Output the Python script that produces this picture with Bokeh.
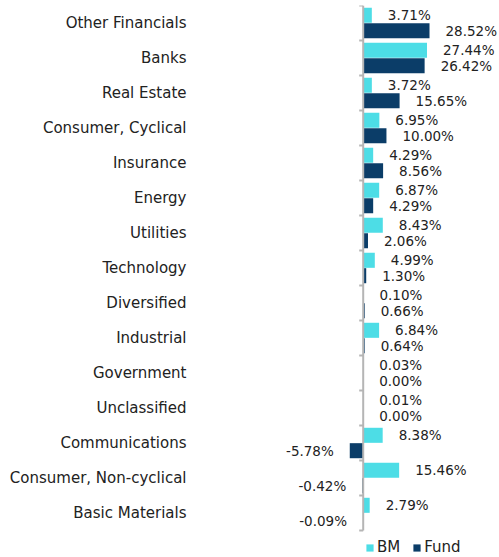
from bokeh.plotting import figure
from bokeh.models import Range1d, ColumnDataSource, Legend, LegendItem, FixedTicker
from bokeh.transform import dodge
from bokeh.core.properties import value
from bokeh.embed import file_html
from bokeh.resources import INLINE

categories = ["Other Financials", "Banks", "Real Estate", "Consumer, Cyclical", "Insurance",
              "Energy", "Utilities", "Technology", "Diversified", "Industrial", "Government",
              "Unclassified", "Communications", "Consumer, Non-cyclical", "Basic Materials"]
bm = [3.71, 27.44, 3.72, 6.95, 4.29, 6.87, 8.43, 4.99, 0.10, 6.84, 0.03, 0.01, 8.38, 15.46, 2.79]
fund = [28.52, 26.42, 15.65, 10.00, 8.56, 4.29, 2.06, 1.30, 0.66, 0.64, 0.00, 0.00, -5.78, -0.42, -0.09]
series_names = ["BM", "Fund"]

BM_COLOR = "#4DDDE6"
FUND_COLOR = "#0B3D68"
AXIS_COLOR = "#B5B5B5"
TEXT_COLOR = "#222222"
FONT = "DejaVu Sans"

n = len(categories)
ypos = [n - i - 0.5 for i in range(n)]   # category slots, top to bottom

L = 190          # frame left (px)
TOP = 5
ROW_PX = 35
FRAME_H = 557 - TOP
PX_PER_UNIT = 2.325
ZERO_PX = 362.7
FRAME_W = 499 - L
x_start = -(ZERO_PX - L) / PX_PER_UNIT
x_end = (499 - ZERO_PX) / PX_PER_UNIT

p = figure(y_range=Range1d(n - FRAME_H / ROW_PX, n),
           x_range=Range1d(x_start, x_end),
           frame_width=FRAME_W, frame_height=FRAME_H,
           output_backend="svg", toolbar_location=None,
           min_border_left=L, min_border_right=0, min_border_top=TOP, min_border_bottom=0)
p.outline_line_color = None
p.xgrid.visible = False
p.ygrid.visible = False
p.xaxis.visible = False
p.yaxis.ticker = FixedTicker(ticks=ypos, minor_ticks=[])
p.yaxis.major_label_overrides = {y: c for y, c in zip(ypos, categories)}
p.yaxis.axis_line_color = None
p.yaxis.major_tick_line_color = None
p.yaxis.major_tick_in = 0
p.yaxis.major_tick_out = 0
p.yaxis.minor_tick_line_color = None
p.yaxis.major_label_text_font = FONT
p.yaxis.major_label_text_font_size = "15px"
p.yaxis.major_label_text_color = TEXT_COLOR
p.yaxis.major_label_standoff = 4

src = ColumnDataSource(dict(y=ypos, cat=categories, bm=bm, fund=fund))
OFF = 0.22
H = 0.43
r_bm = p.hbar(y=dodge("y", OFF), right="bm", left=0, height=H,
              source=src, color=BM_COLOR, line_color=None)
r_fund = p.hbar(y=dodge("y", -OFF), right="fund", left=0, height=H,
                source=src, color=FUND_COLOR, line_color=None)

# zero axis line with ticks at category boundaries
p.segment(x0=[0], y0=[0], x1=[0], y1=[n], line_color=AXIS_COLOR, line_width=2)
bounds = list(range(n + 1))
p.ray(x=[0] * len(bounds), y=bounds, angle=3.14159265, length=4, length_units="screen",
      line_color=AXIS_COLOR, line_width=2)

# value labels
def add_labels(vals, off):
    pos = dict(y=[], v=[], t=[])
    neg = dict(y=[], v=[], t=[])
    for yy, v in zip(ypos, vals):
        d = neg if v < 0 else pos
        d["y"].append(yy)
        d["v"].append(v)
        d["t"].append(f"{v:.2f}%")
    p.text(x="v", y=dodge("y", off), text="t", source=ColumnDataSource(pos),
           x_offset=16, text_align="left", text_baseline="middle",
           text_font=value(FONT), text_font_size="13.5px", text_color=TEXT_COLOR)
    p.text(x="v", y=dodge("y", off), text="t", source=ColumnDataSource(neg),
           x_offset=-16, text_align="right", text_baseline="middle",
           text_font=value(FONT), text_font_size="13.5px", text_color=TEXT_COLOR)

add_labels(bm, OFF)
add_labels(fund, -OFF)

LEG_H = 18
legend = Legend(items=[LegendItem(label=series_names[0], renderers=[r_bm]),
                       LegendItem(label=series_names[1], renderers=[r_fund])],
                orientation="horizontal", location=(365 - L, 10 - LEG_H / 2),
                glyph_width=9, glyph_height=9, label_standoff=3, spacing=12,
                label_height=LEG_H, label_width=10,
                padding=0, margin=0, border_line_color=None, background_fill_alpha=0,
                label_text_font=FONT, label_text_font_size="15px", label_text_color=TEXT_COLOR)
p.add_layout(legend, "center")

open("out.html", "w").write(file_html(p, INLINE))
